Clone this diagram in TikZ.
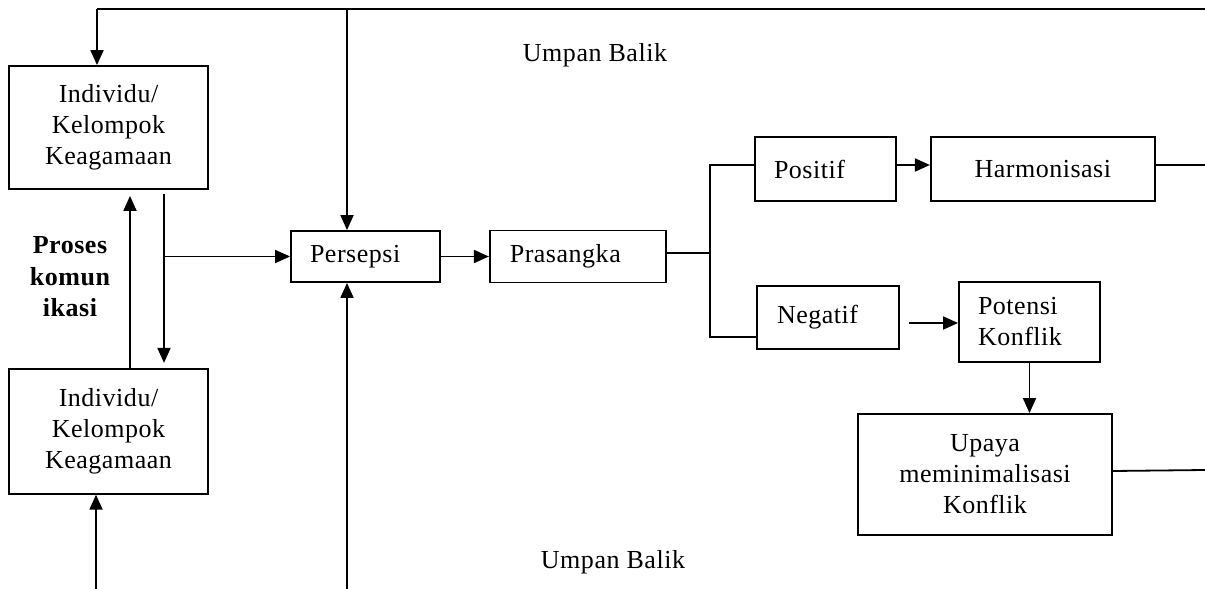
\documentclass[tikz,border=0pt]{standalone}
\usepackage{fontspec}
\setmainfont[LetterSpace=2]{Liberation Serif}
\usepackage{tikz}
\usetikzlibrary{positioning}
\usetikzlibrary{arrows.meta}

\begin{document}
\begin{tikzpicture}[
    x=1pt, y=-1pt,
    font=\fontsize{26}{31}\selectfont,
    blok/.style={draw,line width=1.8pt,inner sep=0pt,align=center},
    kiri/.style={blok,align=left,inner xsep=19pt},
    lintas/.style={line width=1.8pt},
    panah/.style={lintas,-{Triangle[length=15pt,width=13pt]}}
    ]
    \useasboundingbox (0,0) rectangle (1205,589);

    \node[blok, minimum width=199pt, minimum height=123pt] (ind1) at (108.5,127.5) {Individu/\\Kelompok\\Keagamaan};
    \node[blok, minimum width=199pt, minimum height=125pt, below=178pt of ind1] (ind2) {Individu/\\Kelompok\\Keagamaan};

    \node[kiri, text width=111pt, minimum height=51pt] (persepsi) at (365.5,256.5) {Persepsi};
    \node[kiri, text width=136pt, inner xsep=20pt, minimum height=52pt, right=48pt of persepsi] (prasangka) {Prasangka};

    \node[kiri, text width=103pt, minimum height=64pt] (positif) at (825.5,169) {Positif};
    \node[blok, minimum width=224pt, minimum height=64pt, right=33pt of positif] (harmonisasi) {Harmonisasi};

    \node[kiri, text width=102pt, inner xsep=20pt, minimum height=63pt] (negatif) at (828,317.5) {Negatif};
    \node[kiri, text width=103pt, minimum height=80pt] (potensi) at (1029.5,322) {Potensi\\Konflik};
    \node[blok, minimum width=254pt, minimum height=121pt] (upaya) at (985,474.5) {Upaya\\meminimalisasi\\Konflik};

    \node (umpan1) at (595,55) {Umpan Balik};
    \node (umpan2) at (613,562) {Umpan Balik};
    \node[font=\fontsize{26}{31.5}\selectfont\bfseries, align=center] (proses) at (70,277) {Proses\\komun\\ikasi};

    % umpan balik atas
    \coordinate (fbkanan) at (1205,9);
    \coordinate (fbkiri) at (97,9);
    \coordinate (fbtengah) at (347,10);
    \draw[lintas] (fbkanan) -- (fbkiri);
    \draw[panah] (fbkiri) -- (fbkiri |- ind1.north);
    \draw[panah] (fbtengah) -- (fbtengah |- persepsi.north);

    % proses komunikasi
    \coordinate (k1) at (130,0);
    \coordinate (k2) at (164,0);
    \draw[panah, shorten >=6pt] (k1 |- ind2.north) -- (k1 |- ind1.south);
    \draw[panah, shorten <=4pt, shorten >=5pt] (k2 |- ind1.south) -- (k2 |- ind2.north);
    \draw[panah] (k2 |- persepsi.west) -- (persepsi.west);

    \draw[panah] (persepsi.east) -- (persepsi.east -| prasangka.west);

    \coordinate (cabang) at (710,253);
    \draw[lintas] (prasangka.east |- cabang) -- (cabang);
    \draw[lintas] ([yshift=4pt]positif.west) -| (cabang) |- ([yshift=-19.5pt]negatif.west);

    \draw[panah] ([yshift=4pt]positif.east) -- ([yshift=4pt]harmonisasi.west);
    \coordinate (kanan1) at (1205,165);
    \draw[lintas] ([yshift=4pt]harmonisasi.east) -- (kanan1);

    \coordinate (neg) at (909,323);
    \draw[panah] (neg) -- (neg -| potensi.west);
    \draw[panah] (potensi.south) -- (potensi.south |- upaya.north);
    \coordinate (kanan2) at (1205,470);
    \draw[lintas] ([yshift=3.5pt]upaya.east) -- (kanan2);

    % umpan balik bawah
    \coordinate (bawah1) at (96,589);
    \coordinate (bawah2) at (347,589);
    \draw[panah] (bawah1) -- (bawah1 |- ind2.south);
    \draw[panah] (bawah2) -- (bawah2 |- persepsi.south);

\end{tikzpicture}
\end{document}
